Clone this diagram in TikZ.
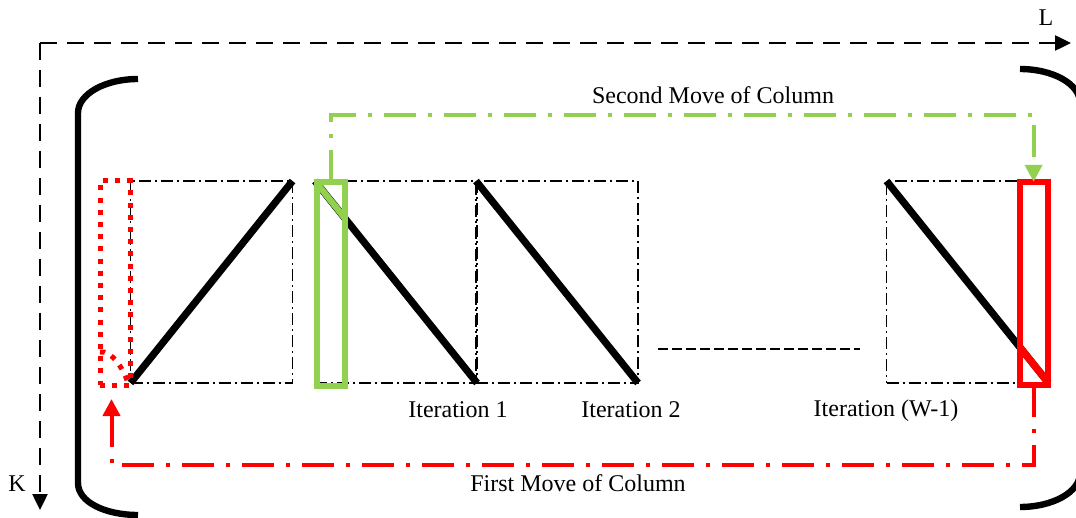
\documentclass[tikz,border=0pt]{standalone}
\usepackage{fontspec}
\setmainfont{Liberation Serif}
\usetikzlibrary{arrows.meta}
\definecolor{mgreen}{HTML}{92D050}
\definecolor{mred}{HTML}{FF0000}
\tikzset{
  axisline/.style={line width=1.25pt, dash pattern=on 8.5pt off 5pt, -{Triangle[length=8pt,width=7.5pt]}},
  iterbox/.style={draw, line width=0.7pt, dash pattern=on 6pt off 2pt on 1pt off 2pt, minimum width=81pt, minimum height=101pt, inner sep=0pt, outer sep=0pt},
  diag/.style={line width=3.6pt},
  bracket/.style={line width=3.2pt},
  colbox/.style={draw, line width=3pt, minimum width=14pt, minimum height=102pt, inner sep=0pt, outer sep=0pt},
  dotpat/.style={draw=mred, line width=2.5pt, dash pattern=on 2.5pt off 3.6pt},
  dotbox/.style={dotpat, minimum width=15pt, minimum height=102pt, inner sep=0pt, outer sep=0pt},
  movearrow/.style={line width=2pt, dash pattern=on 16pt off 6pt on 2pt off 6pt, -{Triangle[length=8.5pt,width=8.5pt]}},
  lbl/.style={font=\fontsize{12}{14}\selectfont, inner sep=0pt},
  midline/.style={line width=0.7pt, dash pattern=on 5pt off 2pt}
}
\begin{document}
\begin{tikzpicture}[x=0.5pt,y=-0.5pt]
\useasboundingbox (0,0) rectangle (1076,518);
\clip (0,0) rectangle (1076,518);
% axes
\coordinate (origin) at (40,43);
\coordinate (lend) at (1071,43);
\coordinate (kend) at (40,510);
\draw[axisline] (origin) -- (lend);
\draw[axisline] (origin) -- (kend);
\node[lbl] (L) at (1046,18) {L};
\node[lbl] (K) at (17,484) {K};
% brackets
\draw[bracket] (138,79) .. controls (105,79) and (78,94) .. (78,113) -- (78,483) .. controls (78,502) and (105,515) .. (138,515);
\draw[bracket] (1020,69) .. controls (1053,69) and (1080,84) .. (1080,103) -- (1080,473) .. controls (1080,492) and (1053,507) .. (1020,507);
% iteration boxes
\node[iterbox] (b1) at (211.5,282) {};
\node[iterbox] (b2) at (396,282) {};
\node[iterbox] (b3) at (557,282) {};
\node[iterbox] (b4) at (967.5,282) {};
\draw[diag] (b1.south west) -- (b1.north east);
\draw[diag] (b2.north west) -- (b2.south east);
\draw[diag] (b3.north west) -- (b3.south east);
\draw[diag] (b4.north west) -- (b4.south east);
\coordinate (m1) at (658,349);
\coordinate (m2) at (860,349);
\draw[midline] (m1) -- (m2);
% column boxes
\node[colbox, draw=mgreen] (gcol) at (330.6,284) {};
\node[colbox, draw=mred, minimum height=101.5pt] (rcol) at (1033.6,283.3) {};
\begin{scope}
\clip (gcol.south west) rectangle (gcol.north east);
\draw[diag, mgreen, line width=3.2pt] (b2.north west) -- (b2.south east);
\end{scope}
\begin{scope}
\clip (rcol.south west) rectangle (rcol.north east);
\draw[diag, mred, line width=3.6pt] (b4.north west) -- (b4.south east);
\end{scope}
\node[colbox, draw=mgreen] at (gcol) {};
\node[colbox, draw=mred, minimum height=101.5pt] at (rcol) {};
% dotted column
\node[dotbox] (dcol) at (115,283) {};
\draw[dotpat] (100,352) .. controls (112,350) and (124,370) .. (128,383);
% moves
\coordinate (gup) at (330.6,115);
\coordinate (gright) at (1033.6,115);
\draw[movearrow, mgreen] (gcol.north) -- (gup) -- (gright) -- (rcol.north);
\coordinate (rdown) at (1033.6,465);
\coordinate (rleft) at (111.5,465);
\coordinate (rtip) at (111.5,399);
\draw[movearrow, mred] (rcol.south) -- (rdown) -- (rleft) -- (rtip);
% labels
\node[lbl] (second) at (713,95) {Second Move of Column};
\node[lbl] (first) at (578,483) {First Move of Column};
\node[lbl] (it1) at (458,410) {Iteration 1};
\node[lbl] (it2) at (631,410) {Iteration 2};
\node[lbl] (itw) at (886,411) {Iteration (W-1)};
\end{tikzpicture}
\end{document}
